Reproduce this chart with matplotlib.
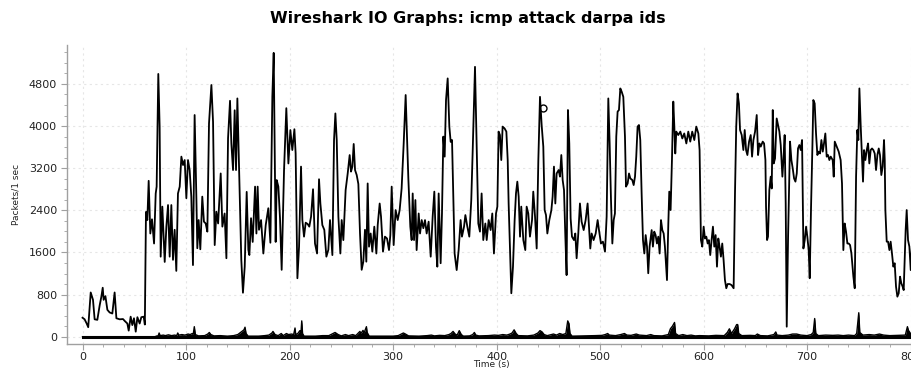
import numpy as np
import matplotlib
matplotlib.use("Agg")
import matplotlib.pyplot as plt
from matplotlib.ticker import MultipleLocator


TITLE = "Wireshark IO Graphs: icmp attack darpa ids"
X_LABEL = "Time (s)"
Y_LABEL = "Packets/1 sec"

# main graph: all packets (time in s, packets per second)
main_t = [
    0, 2, 4, 5.5, 7.9, 10.1, 11.7, 14.3, 16.6, 18.2,
    19.5, 20.4, 22.1, 24, 26.2, 28.8, 31, 32.7, 35.9, 39.1,
    40.7, 43.3, 44.6, 46.5, 48.1, 49.7, 51.4, 53, 55.2, 56.8,
    59.1, 60.2, 61.3, 62.6, 63.9, 65.5, 67.1, 69.1, 70.7, 71.6,
    73.2, 74.5, 75.5, 77.1, 79.4, 81, 82.6, 84.2, 85.8, 87.4,
    89, 90.6, 92.2, 93.9, 95.5, 97.1, 98.7, 100.3, 101.9, 103.5,
    105.1, 106.7, 108.3, 110, 110.9, 112.2, 113.8, 115.7, 117.3, 119,
    120.6, 122.2, 124.5, 126.1, 127.7, 129.3, 131, 133.5, 135.1, 137.3,
    139, 140.6, 142.5, 143.8, 145.4, 147, 148.3, 149.6, 151.8, 153.4,
    155, 156.7,
    158.6, 160.2, 161.2, 162.8, 164.4, 166.7, 168, 169.2, 170.5, 172.5,
    174.7, 177, 179.5, 181.5, 183.4, 184.7, 186.6, 187.6, 189.2, 190.8,
    192.4, 194.7, 196.9, 198.9, 200.8, 202.7, 204.7, 205.9, 207.6, 209.2,
    211.1, 212.4, 214, 215.6, 217.5, 219.1, 220.8, 222.7, 224.6, 226.6,
    228.5, 229.8, 231.7, 233.6, 235.6, 237.5, 239.1, 241.4, 243, 244.3,
    245.6, 247.2, 249.1, 250.4, 252, 254.2, 256.2, 258.1, 259.4, 260.7,
    262, 263.3, 264.9, 266.5, 268.1, 269.7, 271.3, 272.9, 274.2, 275.5,
    276.8, 278.4, 280, 281.9, 283.9, 285.2, 287.1, 288.4, 290.3, 292.2,
    294.2, 296.1, 297.4, 298.7, 300.6, 302.5, 304.5, 306.4, 308.3, 310.3,
    312.2, 313.5, 314.8, 316.7, 318,
    319, 320.3, 321.6, 322.8, 324.8, 326.1, 327.7, 329.3, 330.9, 332.5,
    334.4, 336.4, 338.3, 339.9, 341.5, 342.8, 344.1, 346, 347.3, 348.6,
    349.9, 351.2, 352.8, 354.4, 355.7, 357, 358.3, 359.5, 361.5, 363.4,
    365.3, 366.6, 368.6, 369.9, 371.8, 373.7, 375.6, 376.9, 379.2, 380.8,
    382.4, 384, 385.6, 387.2, 389.2, 390.5, 392.4, 394.3, 395.9, 397.5,
    399.5, 400.8, 402, 403.3, 404.6, 405.9, 407.8, 409.5, 410.8, 411.7,
    413, 414.3, 415.9, 417.5, 418.8, 420.1, 421.4, 422.7, 423.9, 425.9,
    427.8, 429.1, 430.7, 432.3, 434.3, 435.5, 437.2, 438.8, 440.4, 442,
    443.6, 445.2, 446.5, 447.8, 449.1, 451, 453, 454.2, 455.5, 456.8,
    458.1, 460, 461.3, 462.6, 463.9, 465.2, 466.5, 467.7, 469, 470.3,
    471.6, 472.9, 474.8, 476.1,
    477.4, 479, 480.6, 482.2, 484.2, 486.1, 488, 489.3, 490.6, 491.9,
    493.8, 495.8, 497.7, 499, 500.9, 502.8, 504.8, 506.4, 508, 509.3,
    510.6, 511.9, 513.2, 514.4, 515.7, 517, 518.3, 519.6, 520.9, 522.5,
    524.1, 525.1, 526.7, 528, 529.3, 531.2, 532.5, 533.8, 535, 536.3,
    537.6, 538.9, 540.2, 541.5, 542.8, 544.1, 545.4, 546.6, 547.9, 549.9,
    551.1, 552.4, 553.7, 555, 556.3, 557.6, 558.9, 560.2, 561.5, 562.7,
    563.7, 564.7, 566, 566.9, 568.2, 569.5, 570.8, 571.8, 572.7, 573.7,
    575.6, 577.6, 579.5, 581.4, 583.4, 585.3, 587.2, 589.1, 591.1, 593,
    595, 596.2, 597.5, 598.8, 600.1, 601.4, 602.7, 604, 605.2, 606.5,
    607.8, 609.1, 610.4, 611.7, 613, 614.3, 615.5, 616.8, 618.1, 619.4,
    620.7, 622, 623.3, 625.2, 627.1, 629.1, 630.4, 631.6, 632.9, 634.2,
    635.3, 636.9, 638.5, 639.8, 641.1, 642.4, 644, 645.6, 646.9, 648.2,
    649.8, 651.4, 652.7, 654, 655.3, 657.2, 658.5, 659.8, 660.4, 661.4,
    662.3, 663.6, 664.9, 665.9, 666.9, 667.8, 669.1, 670.7, 672, 673.3,
    674.6, 676.2, 677.2, 678.4, 679.4, 680.4, 681.7, 683.6, 684.9, 686.2,
    687.5, 688.8, 690.1, 691.3, 692.6, 693.9, 695.2, 696.5, 697.8, 699.1,
    700.3, 701.6, 702.6, 703.9, 705.2, 706.1, 707.4, 708.7, 710, 711.3,
    712.6, 713.9, 715.2, 716.4, 717.7, 719, 720.3, 721.6, 722.9, 724.8,
    725.8, 726.8, 728.7, 730.6, 732.5, 733.8, 735.1, 736.4, 737.7, 739,
    740.3, 741.6, 742.9, 744.8, 746.1, 747.4, 748.6, 749.6, 750.6, 751.9,
    753.2, 754.1, 755.1, 756.4, 757.7, 759, 760.2, 761.5, 762.8, 764.1,
    765.4, 766.7, 768, 769.3, 770.5, 771.8, 773.1, 774.4, 775.1, 775.7,
    777, 778.3, 779.6, 780.8, 782.1, 783.4, 784.7, 786, 787.3, 788.6,
    789.9, 791.1, 792.4, 793.4, 794.4, 795.3, 796.3, 797.6, 798.9, 800.2,
    801.4,
]
main_v = [
    360, 330, 250, 180, 840, 700, 330, 320, 600, 760,
    930, 700, 770, 510, 460, 440, 840, 350, 330, 335,
    300, 250, 115, 380, 220, 350, 95, 370, 250, 370,
    380, 230, 2370, 2215, 2960, 1960, 2230, 1770, 2720, 2850,
    4990, 3990, 1520, 2470, 1420, 2090, 2500, 1520, 2500, 1460,
    2030, 1250, 2720, 2850, 3420, 3260, 3355, 2630, 3355, 3165,
    2660, 1360, 4210, 2630, 1680, 2215, 1660, 2660, 2185, 2150,
    1995, 4050, 4780, 4080, 1740, 2375, 2150, 3100, 2090, 2340,
    1490, 3770, 4480, 3670, 3165, 4300, 3165, 4525, 2720, 1460,
    835, 1330,
    2750, 1650, 1550, 2250, 1800, 2850, 1960, 2850, 2030, 2215,
    1580, 2120, 2440, 1785, 4560, 5390, 1800, 2975, 2850, 2250,
    1270, 3165, 4340, 3290, 3925, 3545, 3940, 3480, 1110, 1710,
    3230, 2215, 1900, 2165, 2140, 2090, 2280, 2800, 1770, 1580,
    2990, 2530, 2120, 2030, 1520, 1650, 2215, 1550, 3735, 4240,
    3735, 2280, 1580, 2215, 1835, 2785, 3100, 3450, 3135, 3230,
    3660, 3165, 3070, 2900, 1960, 1270, 1425, 2030, 1425, 2910,
    1710, 1960, 1615, 2090, 1580, 2120, 2530, 2280, 1615, 1900,
    1865, 1645, 1930, 2850, 1740, 2405, 2215, 2405, 2815, 3670,
    4590, 3765, 3005, 2090, 1835,
    2720, 1835, 2595, 1645, 2340, 1960, 2215, 2060, 2215, 1960,
    2185, 1520, 2280, 2755, 1710, 1330, 2720, 1395, 2340, 3800,
    3420, 4495, 4905, 3990, 3700, 3735, 2595, 1580, 1265, 1645,
    2215, 1900, 2090, 2310, 2090, 1900, 2595, 3480, 5125, 3670,
    2150, 1995, 2720, 1835, 2150, 1835, 2215, 2025, 2340, 1580,
    2340, 2470, 3895, 3830, 3355, 3990, 3955, 3895, 3355, 2530,
    1645, 825, 1330, 2215, 2720, 2945, 2660, 1900, 2470, 1835,
    1645, 2470, 2340, 1900, 2215, 2755, 2280, 1675, 3355, 4555,
    4020, 3610, 2405, 2310, 1960, 2215, 2405, 2660, 3230, 2530,
    3100, 3165, 3040, 3450, 2975, 2785, 1900, 1170, 4305, 3670,
    2245, 1900, 1835, 1960,
    1490, 1960, 2530, 2185, 2025, 2215, 2530, 2090, 1675, 1960,
    1835, 1960, 2215, 2025, 1770, 1805, 1615, 2280, 4525, 3670,
    2595, 1770, 2215, 2340, 3800, 4275, 4305, 4715, 4655, 4555,
    3800, 2850, 2910, 3100, 3005, 2975, 2880, 3040, 3420, 3990,
    4020, 3735, 2720, 1835, 1580, 1930, 1710, 1205, 1710, 2025,
    1710, 1995, 1930, 1770, 1900, 1580, 2215, 2025, 1960, 1710,
    1395, 1075, 2150, 2755, 2405, 3355, 4465, 3990, 3480, 3895,
    3830, 3895, 3765, 3860, 3670, 3895, 3705, 3895, 3735, 3990,
    3860, 3545, 1835, 1710, 2090, 1865, 1900, 1770, 1835, 1550,
    1835, 2090, 1710, 1930, 1330, 1865, 1710, 1520, 1770, 1455,
    1075, 920, 1000, 1000, 980, 920, 2720, 3990, 4620, 4430,
    3925, 3830, 3545, 3925, 3545, 3450, 3705, 3830, 3420, 3735,
    3895, 4210, 3450, 3670, 3610, 3705, 3670, 3355, 2470, 1835,
    1900, 2785, 3040, 2815, 4305, 3290, 3385, 4145, 4020, 3895,
    3640, 3040, 3355, 3830, 2530, 190, 1900, 3705, 3355, 3195,
    3005, 2945, 3100, 3575, 3640, 3545, 3735, 1675, 1835, 2090,
    1900, 1645, 1110, 2470, 3610, 4495, 4430, 3860, 3450, 3515,
    3480, 3735, 3515, 3670, 3860, 3420, 3450, 3355, 3420, 3355,
    3040, 3705, 3610, 3515, 3355, 2910, 1645, 2150, 1995, 1770,
    1770, 1740, 1580, 1140, 920, 3040, 3925, 3735, 4715, 3990,
    3355, 2945, 3545, 3355, 3545, 3670, 3290, 3545, 3575, 3545,
    3480, 3165, 3450, 3575, 3450, 3070, 3230, 3735, 3355, 2405,
    1805, 1805, 1645, 1805, 1580, 1330, 1395, 950, 760, 825,
    1140, 1015, 950, 885, 1520, 2025, 2405, 1835, 1710, 1265,
    1710,
]

# second graph: the small filled trace near zero
sec_t = [
    0, 70, 72, 73, 74, 75, 78, 80, 83, 86,
    89, 91, 92, 93, 96, 99, 102, 104, 106, 107,
    108, 109, 112, 118, 121, 122.5, 124, 127, 133, 140,
    146, 150, 152, 154, 156, 157, 158, 160, 170, 176,
    180, 183, 184, 186, 189, 192, 194, 197, 199, 202,
    204, 205.3, 206, 208, 210, 211, 211.8, 212.6, 214, 225,
    232, 238, 241, 244, 247, 250, 254, 257, 261, 264,
    268, 269, 271, 272, 274.3, 275, 277, 290, 300, 305,
    308, 310, 312, 315, 325, 333, 337, 340, 345, 350,
    354, 356, 358, 360, 362, 364, 366, 368, 374, 377,
    378.6, 380, 383, 392, 398, 402, 406, 410, 413, 415,
    417, 419, 421, 430, 436, 440, 442, 444, 446, 449,
    455, 458, 461, 464, 467, 468.8, 470, 471, 473, 485,
    495, 502, 505, 507.4, 509, 515, 520, 523.6, 526, 530,
    535, 538, 545, 549, 552, 560, 566, 568, 570, 572,
    573, 576, 580, 584, 588, 592, 596, 605, 612, 620,
    623, 625, 627, 630, 632, 633, 634, 637, 645, 650,
    652, 655, 662, 668, 669.8, 671, 676, 682, 686, 690,
    694, 700, 704, 706, 707.4, 708.5, 711, 718, 725, 730,
    735, 740, 746, 748, 750, 751, 754, 760, 765, 770,
    774, 780, 788, 795, 797, 798, 800, 803,
]
sec_v = [
    0, 0, 15, 10, 70, 20, 30, 20, 35, 20,
    30, 20, 70, 30, 40, 30, 50, 40, 60, 50,
    190, 40, 15, 20, 50, 80, 40, 15, 20, 10,
    20, 40, 70, 100, 130, 180, 60, 10, 10, 20,
    30, 70, 100, 40, 20, 60, 20, 60, 40, 50,
    40, 165, 40, 60, 115, 60, 300, 60, 10, 10,
    20, 20, 50, 80, 40, 15, 40, 20, 40, 20,
    100, 60, 120, 70, 190, 80, 10, 10, 10, 20,
    50, 70, 50, 15, 10, 20, 30, 15, 25, 20,
    40, 60, 100, 50, 30, 115, 40, 10, 15, 40,
    80, 30, 15, 20, 30, 25, 40, 30, 50, 70,
    130, 60, 20, 15, 30, 70, 115, 90, 40, 20,
    50, 30, 60, 40, 60, 300, 250, 60, 10, 15,
    20, 25, 40, 60, 30, 20, 40, 60, 30, 25,
    50, 30, 20, 40, 20, 15, 40, 150, 200, 270,
    60, 20, 40, 20, 30, 15, 20, 15, 25, 20,
    80, 150, 60, 150, 230, 230, 60, 20, 25, 20,
    50, 20, 15, 40, 90, 30, 20, 30, 50, 50,
    30, 20, 40, 80, 345, 60, 20, 30, 25, 30,
    20, 30, 20, 60, 455, 80, 30, 40, 30, 50,
    30, 20, 25, 30, 190, 120, 60, 40,
]

# small open circle drawn on the graph (wireshark cursor)
mark_t = [445]
mark_v = [4350]

x_ticks = [0, 100, 200, 300, 400, 500, 600, 700, 800]
y_ticks = [0, 800, 1600, 2400, 3200, 4000, 4800]


def main():
    fig = plt.figure(figsize=(9.12, 3.71), dpi=100)
    W, H = 912, 371
    left, right, bottom, top = 66.7, 916, 344, 45
    ax = fig.add_axes([left / W, 1 - bottom / H, (right - left) / W, (bottom - top) / H])

    ax.plot(main_t, main_v, color="black", lw=1.3, zorder=3)
    ax.fill_between(sec_t, 0, sec_v, color="black", lw=0, zorder=3)
    ax.plot(sec_t, sec_v, color="black", lw=1.0, zorder=3)
    ax.plot([0, sec_t[-1]], [0, 0], color="black", lw=2.2, zorder=3)
    ax.plot(mark_t, mark_v, "o", mfc="none", mec="black", ms=5, mew=1.0, zorder=4)

    ax.set_xlim(-15.3, 805.3)
    ax.set_ylim(-139, 5540)
    ax.set_xticks(x_ticks)
    ax.set_yticks(y_ticks)
    ax.xaxis.set_minor_locator(MultipleLocator(20))
    ax.yaxis.set_minor_locator(MultipleLocator(200))

    for s in ["top", "right"]:
        ax.spines[s].set_visible(False)
    for s in ["left", "bottom"]:
        ax.spines[s].set_color("#a0a0a0")
        ax.spines[s].set_linewidth(1.0)

    ax.tick_params(which="major", length=4, color="#a0a0a0", labelsize=8,
                   labelcolor="#222222")
    ax.tick_params(which="minor", length=2.5, color="#a0a0a0")
    ax.tick_params(axis="x", pad=2)
    ax.tick_params(axis="y", pad=3)

    # faint dotted grid at the major ticks
    ax.grid(True, which="major", color="#e6e6e6", linestyle=(0, (2, 3)), lw=0.8)
    ax.set_axisbelow(True)

    fig.text(468 / W, 1 - 18 / H, TITLE, ha="center", va="center",
             fontsize=11.5, fontweight="bold")
    fig.text(16 / W, 1 - 194 / H, Y_LABEL, ha="center", va="center",
             rotation=90, fontsize=6.5, color="#222222")
    fig.text(491 / W, 1 - 365 / H, X_LABEL, ha="center", va="center",
             fontsize=6.5, color="#222222")

    fig.savefig("out.png", dpi=100, facecolor="white")


if __name__ == "__main__":
    main()
